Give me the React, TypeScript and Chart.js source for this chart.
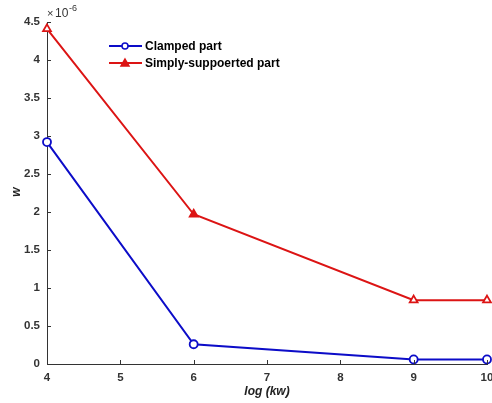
import React, { useEffect, useRef } from "react";
import { Chart, registerables } from "chart.js";

Chart.register(...registerables);

const xValues = [4, 6, 9, 10];
const clamped = [2.92, 0.26, 0.06, 0.06];
const simply = [4.41, 1.97, 0.84, 0.84];
const seriesNames = ["Clamped part", "Simply-suppoerted part"];
const xTicks = [4, 5, 6, 7, 8, 9, 10];
const yTicks = [0, 0.5, 1, 1.5, 2, 2.5, 3, 3.5, 4, 4.5];
const xTitle = "log (kw)";
const yTitle = "w";
const exponent = "-6";

const BLUE = "#0c0cc8";
const RED = "#dc1414";
const FONT = "'Liberation Sans', Arial, sans-serif";

const decorPlugin = {
  id: "decor",
  afterDraw(chart: any) {
    const ctx = chart.ctx;
    const area = chart.chartArea;
    const xs = chart.scales.x;
    const ys = chart.scales.y;
    ctx.save();
    // inward tick marks
    ctx.strokeStyle = "#333";
    ctx.lineWidth = 1;
    ctx.beginPath();
    xTicks.forEach((t) => {
      const px = Math.round(xs.getPixelForValue(t)) + 0.5;
      ctx.moveTo(px, area.bottom);
      ctx.lineTo(px, area.bottom - 4);
    });
    yTicks.forEach((t) => {
      const py = Math.round(ys.getPixelForValue(t)) + 0.5;
      ctx.moveTo(area.left, py);
      ctx.lineTo(area.left + 4, py);
    });
    ctx.stroke();

    // exponent label
    ctx.fillStyle = "#333";
    ctx.textBaseline = "alphabetic";
    ctx.textAlign = "left";
    ctx.font = `11px ${FONT}`;
    ctx.fillText("\u00d7", area.left, 17);
    ctx.font = `12px ${FONT}`;
    ctx.fillText("10", area.left + 8, 17);
    ctx.font = `9px ${FONT}`;
    ctx.fillText(exponent, area.left + 22, 11);

    // axis titles
    ctx.fillStyle = "#222";
    ctx.font = `italic bold 12px ${FONT}`;
    ctx.textAlign = "center";
    ctx.textBaseline = "middle";
    ctx.fillText(xTitle, 267, 392);
    ctx.save();
    ctx.translate(17, 192);
    ctx.rotate(-Math.PI / 2);
    ctx.fillText(yTitle, 0, 0);
    ctx.restore();

    // legend
    const items = [
      { name: seriesNames[0], color: BLUE, style: "circle", y: 46 },
      { name: seriesNames[1], color: RED, style: "triangle", y: 63 },
    ];
    items.forEach((it) => {
      ctx.strokeStyle = it.color;
      ctx.lineWidth = 2;
      ctx.beginPath();
      ctx.moveTo(109, it.y);
      ctx.lineTo(142, it.y);
      ctx.stroke();
      ctx.lineWidth = 1.5;
      if (it.style === "circle") {
        ctx.fillStyle = "#fff";
        ctx.beginPath();
        ctx.arc(125, it.y, 3, 0, Math.PI * 2);
        ctx.fill();
        ctx.stroke();
      } else {
        ctx.fillStyle = it.color;
        ctx.beginPath();
        ctx.moveTo(125, it.y - 4);
        ctx.lineTo(129, it.y + 3);
        ctx.lineTo(121, it.y + 3);
        ctx.closePath();
        ctx.fill();
        ctx.stroke();
      }
      ctx.fillStyle = "#000";
      ctx.font = `bold 12px ${FONT}`;
      ctx.textAlign = "left";
      ctx.textBaseline = "middle";
      ctx.fillText(it.name, 145, it.y + 1);
    });
    ctx.restore();
  },
};

export default function App() {
  const ref = useRef<HTMLCanvasElement>(null);
  useEffect(() => {
    if (!ref.current) return;
    const chart = new Chart(ref.current, {
      type: "line",
      data: {
        datasets: [
          {
            label: seriesNames[0],
            data: xValues.map((x, i) => ({ x, y: clamped[i] })),
            borderColor: BLUE,
            backgroundColor: "#fff",
            borderWidth: 2,
            pointStyle: "circle",
            pointRadius: 4,
            pointBorderWidth: 1.8,
            pointBackgroundColor: "#fff",
            pointBorderColor: BLUE,
            tension: 0,
            clip: false,
          },
          {
            label: seriesNames[1],
            data: xValues.map((x, i) => ({ x, y: simply[i] })),
            borderColor: RED,
            backgroundColor: "#fff",
            borderWidth: 2,
            pointStyle: "triangle",
            pointRadius: 4.5,
            pointBorderWidth: 1.8,
            pointBackgroundColor: ["#fff", RED, "#fff", "#fff"],
            pointBorderColor: RED,
            tension: 0,
            clip: false,
          },
        ],
      },
      options: {
        animation: false,
        responsive: false,
        layout: { autoPadding: false, padding: { top: 22, right: 5, left: 0, bottom: 0 } },
        plugins: { legend: { display: false }, tooltip: { enabled: false } },
        scales: {
          x: {
            type: "linear",
            min: 4,
            max: 10,
            afterBuildTicks: (s: any) => {
              s.ticks = xTicks.map((v) => ({ value: v }));
            },
            afterFit: (s: any) => {
              s.height = 39;
              s.paddingLeft = 0;
              s.paddingRight = 0;
              s.paddingTop = 0;
              s.paddingBottom = 0;
            },
            grid: { display: false, drawTicks: false },
            border: { display: true, color: "#333", width: 1 },
            ticks: {
              padding: 7,
              maxRotation: 0,
              color: "#333",
              font: { family: FONT, size: 11.5, weight: "bold" },
              callback: (v: any) => String(v),
            },
          },
          y: {
            type: "linear",
            min: 0,
            max: 4.5,
            afterBuildTicks: (s: any) => {
              s.ticks = yTicks.map((v) => ({ value: v }));
            },
            afterFit: (s: any) => {
              s.width = 47;
              s.paddingLeft = 0;
              s.paddingRight = 0;
              s.paddingTop = 0;
              s.paddingBottom = 0;
            },
            grid: { display: false, drawTicks: false },
            border: { display: true, color: "#333", width: 1 },
            ticks: {
              padding: 7,
              color: "#333",
              font: { family: FONT, size: 11.5, weight: "bold" },
              callback: (v: any) => String(v),
            },
          },
        },
      },
      plugins: [decorPlugin],
    } as any);
    return () => chart.destroy();
  }, []);
  return (
    <div style={{ position: "fixed", left: 0, top: 0, width: 492, height: 403, background: "#fff" }}>
      <canvas ref={ref} width={492} height={403} style={{ width: 492, height: 403 }} />
    </div>
  );
}
